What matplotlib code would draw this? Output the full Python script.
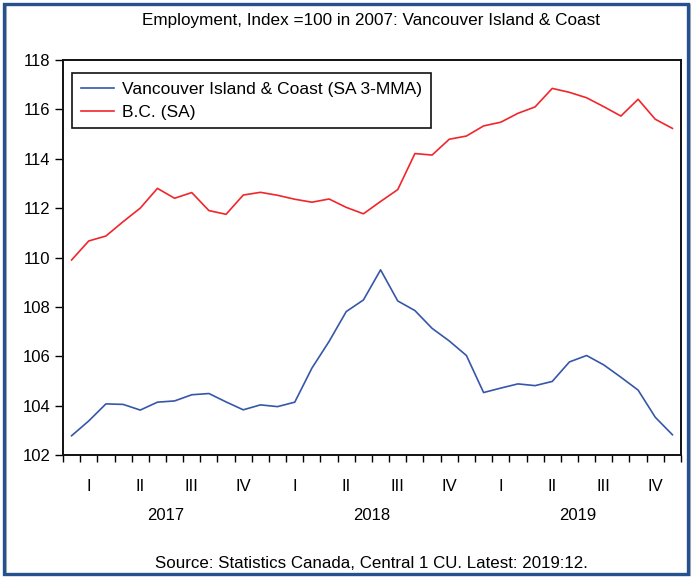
import matplotlib
matplotlib.use("Agg")
import matplotlib.pyplot as plt
import numpy as np
from matplotlib.patches import Rectangle
import matplotlib.transforms as mtransforms

plt.rcParams['font.family'] = ['Liberation Sans', 'DejaVu Sans']

BLUE = '#3656A8'
RED = '#F0262B'
FRAME = '#24528F'

# monthly, Jan 2017 .. Dec 2019
van_island = [102.78, 103.38, 104.07, 104.05, 103.82, 104.14, 104.19, 104.44, 104.49, 104.15, 103.83, 104.03,
              103.96, 104.14, 105.52, 106.60, 107.81, 108.28, 109.50, 108.24, 107.85, 107.13, 106.62, 106.03,
              104.53, 104.71, 104.88, 104.81, 104.98, 105.77, 106.03, 105.65, 105.15, 104.63, 103.53, 102.82]
bc = [109.90, 110.67, 110.87, 111.45, 112.00, 112.80, 112.40, 112.63, 111.90, 111.75, 112.53, 112.64,
      112.52, 112.36, 112.24, 112.37, 112.03, 111.77, 112.27, 112.75, 114.21, 114.15, 114.79, 114.92,
      115.33, 115.48, 115.84, 116.10, 116.85, 116.69, 116.47, 116.11, 115.73, 116.41, 115.60, 115.23]
years = ['2017', '2018', '2019']
quarters = ['I', 'II', 'III', 'IV']
y_ticks = [102, 104, 106, 108, 110, 112, 114, 116, 118]

W, H = 692, 579
fig = plt.figure(figsize=(W / 100, H / 100), dpi=100)
ax = fig.add_axes([63 / W, 1 - 455 / H, (681 - 63) / W, (455 - 60) / H])

x = np.arange(len(bc)) + 0.5
ax.plot(x, van_island, color=BLUE, lw=1.2, label='Vancouver Island & Coast (SA 3-MMA)')
ax.plot(x, bc, color=RED, lw=1.2, label='B.C. (SA)')

ax.set_xlim(0, len(bc))
ax.set_ylim(102, 118)
ax.set_yticks(y_ticks)
ax.tick_params(axis='y', direction='out', length=6, width=1, labelsize=12, pad=3)

# month ticks, quarter labels
ax.set_xticks(np.arange(0, len(bc) + 1))
ax.set_xticklabels([])
ax.tick_params(axis='x', which='major', direction='out', length=5, width=1)
q_pos = np.arange(1.5, len(bc), 3)
ax.set_xticks(q_pos, minor=True)
ax.set_xticklabels([quarters[i % 4] for i in range(len(q_pos))], minor=True)
ax.tick_params(axis='x', which='minor', length=0, labelsize=12, pad=17)

trans = mtransforms.blended_transform_factory(ax.transData, ax.transAxes)
for i, yr in enumerate(years):
    ax.text(i * 12 + 6, -0.154, yr, transform=trans, ha='center', va='center', fontsize=12)

for s in ax.spines.values():
    s.set_linewidth(1.4)
    s.set_color('#111111')

leg = ax.legend(loc='upper left', bbox_to_anchor=(9 / 618, 1 - 13 / 395), fontsize=12.5,
                frameon=True, fancybox=False, framealpha=1, borderaxespad=0, handlelength=1.9,
                borderpad=0.5, labelspacing=0.45, handletextpad=0.5)
leg.get_frame().set_edgecolor('#111111')
leg.get_frame().set_linewidth(1.2)

fig.text(371 / W, 1 - 21 / H, 'Employment, Index =100 in 2007: Vancouver Island & Coast',
         ha='center', va='center', fontsize=12.3)
fig.text(371 / W, 1 - 563 / H, 'Source: Statistics Canada, Central 1 CU. Latest: 2019:12.',
         ha='center', va='center', fontsize=12.2)

# outer frame
fig.patches.append(Rectangle((6 / W, 4 / H), 684 / W, 570 / H, transform=fig.transFigure,
                             fill=False, edgecolor='#B8B8B8', lw=1.5, zorder=0))
fig.patches.append(Rectangle((4 / W, 5 / H), 684 / W, 570 / H, transform=fig.transFigure,
                             fill=False, edgecolor=FRAME, lw=2.4, zorder=1))

fig.savefig('out.png', dpi=100)
